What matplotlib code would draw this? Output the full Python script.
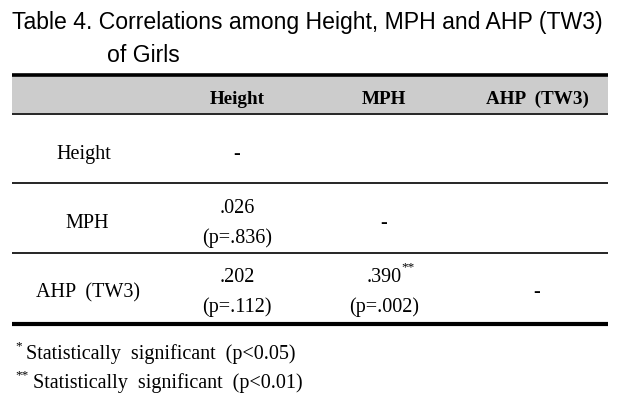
# Tabelle 4: Korrelationen zwischen Height, MPH und AHP (TW3) bei Mädchen
import matplotlib.pyplot as plt

# Daten
titel_zeile1 = "Table 4. Correlations among Height, MPH and AHP (TW3)"
titel_zeile2 = "of Girls"
spalten = ["Height", "MPH", "AHP  (TW3)"]
zeilen = ["Height", "MPH", "AHP  (TW3)"]
# Korrelationen ("-" = Diagonale, leer = oberes Dreieck)
r_werte = [
    ["-", "", ""],
    [".026", "-", ""],
    [".202", ".390", "-"]]
p_werte = [
    ["", "", ""],
    ["(p=.836)", "", ""],
    ["(p=.112)", "(p=.002)", ""]]
sterne = [
    ["", "", ""],
    ["", "", ""],
    ["", "**", ""]]
fussnoten = [("*", "Statistically  significant  (p<0.05)"),
             ("**", "Statistically  significant  (p<0.01)")]

# Layout in Pixelkoordinaten
fig = plt.figure(figsize=(6.19, 4.06), dpi=100)
ax = fig.add_axes([0, 0, 1, 1])
ax.set_xlim(0, 619)
ax.set_ylim(406, 0)
ax.axis("off")

serif = "Liberation Serif"
sans = "Liberation Sans"

ax.text(12, 23, titel_zeile1, fontsize=16.6, family=sans, va="center", ha="left")
ax.text(107, 56, titel_zeile2, fontsize=16.6, family=sans, va="center", ha="left")

x_links, x_rechts = 12, 608
spalten_x = [237, 384, 537]
label_x = [84, 87, 88]

# Kopfzeile mit grauem Hintergrund
ax.fill_between([x_links, x_rechts], 77, 114, color="#cccccc", lw=0)
ax.plot([x_links, x_rechts], [75.5, 75.5], color="black", lw=2.6, solid_capstyle="butt")
ax.plot([x_links, x_rechts], [114.5, 114.5], color="black", lw=1.2, solid_capstyle="butt")
for x, s in zip(spalten_x, spalten):
    ax.text(x, 99, s, fontsize=13.8, family=serif, weight="bold", ha="center", va="center")

# Zeilen
zeilen_mitte = [155, 224, 293]
for i, (ym, name) in enumerate(zip(zeilen_mitte, zeilen)):
    ax.text(label_x[i], ym, name, fontsize=14.5, family=serif, ha="center", va="center")
    for j, x in enumerate(spalten_x):
        r = r_werte[i][j]
        p = p_werte[i][j]
        if r == "-":
            ax.text(x, ym - 1, "-", fontsize=14.5, family=serif, weight="bold", ha="center", va="center")
        elif r:
            ax.text(x, ym - 15, r, fontsize=14.5, family=serif, ha="center", va="center")
            if sterne[i][j]:
                ax.text(x + 17, ym - 26, sterne[i][j], fontsize=9.5, family=serif, ha="left", va="center")
            ax.text(x, ym + 14, p, fontsize=14.5, family=serif, ha="center", va="center")

# Trennlinien
ax.plot([x_links, x_rechts], [183.5, 183.5], color="black", lw=1.2, solid_capstyle="butt")
ax.plot([x_links, x_rechts], [253.5, 253.5], color="black", lw=1.2, solid_capstyle="butt")
ax.plot([x_links, x_rechts], [324.5, 324.5], color="black", lw=3, solid_capstyle="butt")

# Fußnoten
for k, (stern, text) in enumerate(fussnoten):
    y = 354 + 29 * k
    ax.text(15, y - 8, stern, fontsize=9.5, family=serif, ha="left", va="center")
    ax.text(15 + 7 * len(stern) + 4, y, text, fontsize=14.5, family=serif, ha="left", va="center")

plt.savefig("out.png", dpi=100)
